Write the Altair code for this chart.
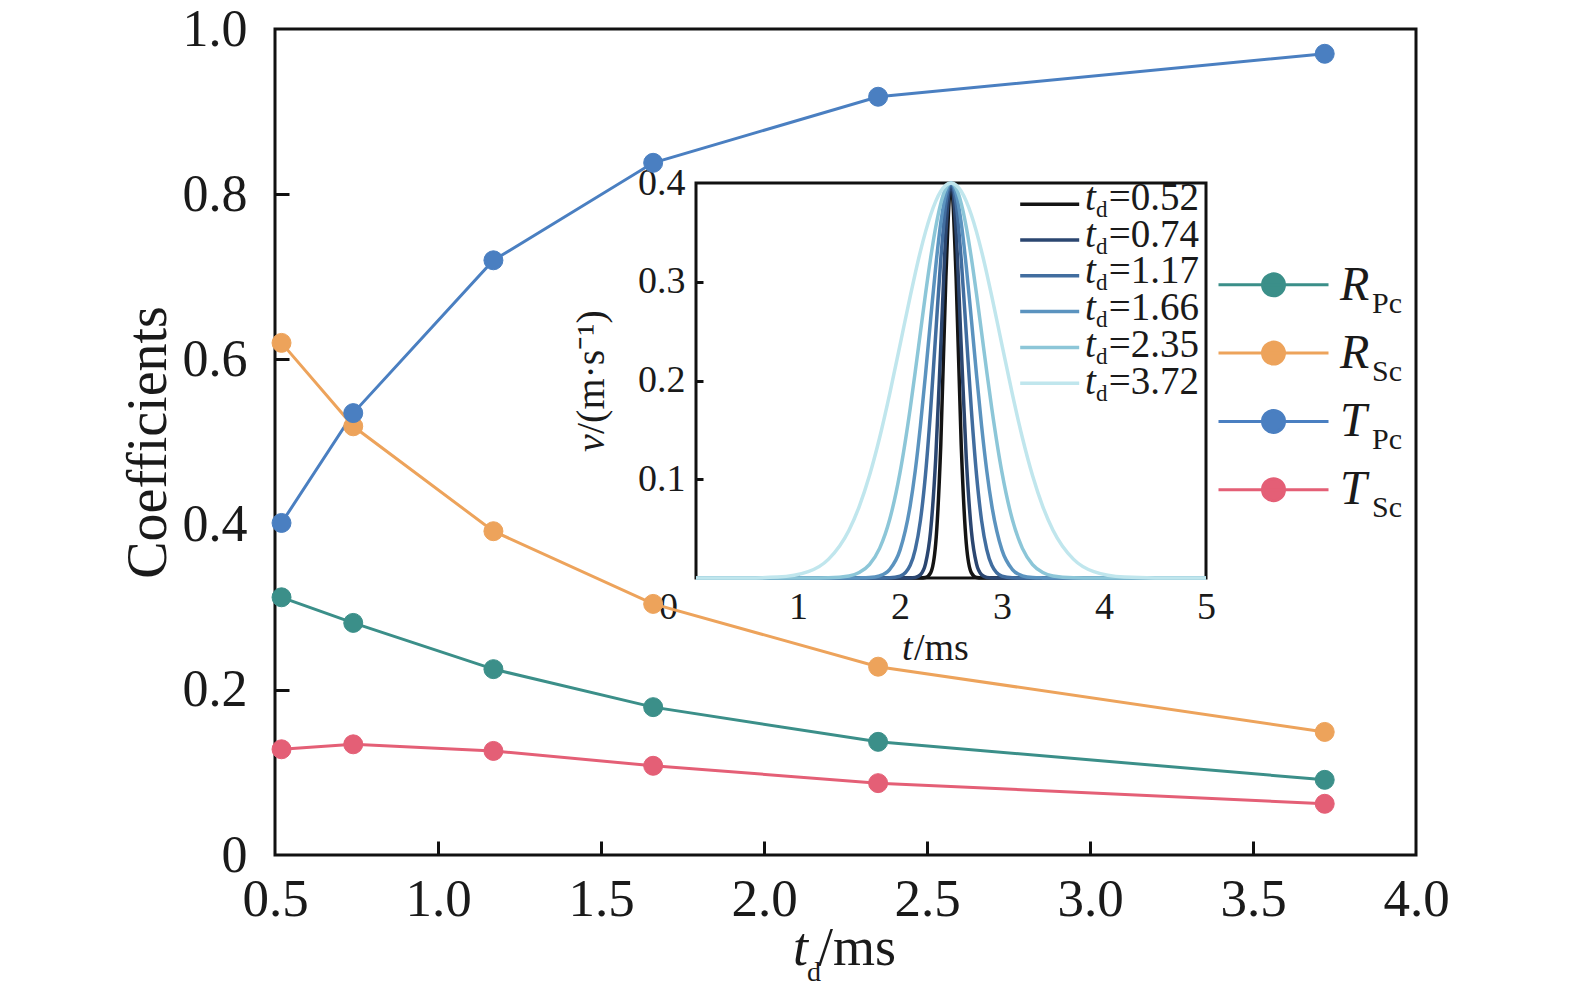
import altair as alt
import pandas as pd

# ---------------- main chart data ----------------
td = [0.52, 0.74, 1.17, 1.66, 2.35, 3.72]
series_names = ["RPc", "RSc", "TPc", "TSc"]
R_Pc = [0.312, 0.281, 0.225, 0.179, 0.137, 0.091]
R_Sc = [0.620, 0.519, 0.392, 0.304, 0.228, 0.149]
T_Pc = [0.402, 0.535, 0.720, 0.838, 0.918, 0.970]
T_Sc = [0.128, 0.134, 0.126, 0.108, 0.087, 0.062]
main_colors = ["#3b8f89", "#eda35b", "#4a7fc1", "#e45f76"]
legend_main = ["R", "R", "T", "T"]
legend_sub = ["Pc", "Sc", "Pc", "Sc"]

x_ticks = [0.5, 1.0, 1.5, 2.0, 2.5, 3.0, 3.5, 4.0]
x_inner_ticks = [1.0, 1.5, 2.0, 2.5, 3.0, 3.5]
y_ticks = [0, 0.2, 0.4, 0.6, 0.8, 1.0]
y_inner_ticks = [0.2, 0.4, 0.6, 0.8]

# ---------------- inset data ----------------
t_ms = [0.0, 0.5, 0.8, 1.1, 1.3, 1.5, 1.6, 1.7, 1.8, 1.9, 2.0, 2.1, 2.15, 2.2, 2.25,
        2.3, 2.35, 2.4, 2.45, 2.5, 2.55, 2.6, 2.65, 2.7, 2.75, 2.8, 2.85, 2.9, 3.0,
        3.1, 3.2, 3.3, 3.4, 3.5, 3.7, 3.9, 4.2, 4.5, 5.0]
v_052 = [0, 0, 0, 0, 0, 0, 0, 0, 0, 0, 0, 0, 0, 0, 0.0005, 0.0052, 0.0348, 0.1352, 0.305,
         0.4, 0.305, 0.1352, 0.0348, 0.0052, 0.0005, 0, 0, 0, 0, 0, 0, 0, 0, 0, 0, 0, 0, 0, 0]
v_074 = [0, 0, 0, 0, 0, 0, 0, 0, 0, 0, 0, 0.0001, 0.0006, 0.0033, 0.0143, 0.0475, 0.1206,
         0.2348, 0.3501, 0.4, 0.3501, 0.2348, 0.1206, 0.0475, 0.0143, 0.0033, 0.0006, 0.0001,
         0, 0, 0, 0, 0, 0, 0, 0, 0, 0, 0]
v_117 = [0, 0, 0, 0, 0, 0, 0, 0, 0, 0.0002, 0.0019, 0.013, 0.029, 0.0581, 0.1048, 0.1697,
         0.247, 0.3228, 0.3791, 0.4, 0.3791, 0.3228, 0.247, 0.1697, 0.1048, 0.0581, 0.029,
         0.013, 0.0019, 0.0002, 0, 0, 0, 0, 0, 0, 0, 0, 0]
v_166 = [0, 0, 0, 0, 0, 0, 0.0001, 0.0004, 0.0022, 0.0088, 0.0282, 0.0733, 0.109, 0.154,
         0.2061, 0.2616, 0.3151, 0.3597, 0.3895, 0.4, 0.3895, 0.3597, 0.3151, 0.2616, 0.2061,
         0.154, 0.109, 0.0733, 0.0282, 0.0088, 0.0022, 0.0004, 0.0001, 0, 0, 0, 0, 0, 0]
v_235 = [0, 0, 0, 0, 0.0002, 0.002, 0.0055, 0.0136, 0.03, 0.0597, 0.1067, 0.1717, 0.2094,
         0.2486, 0.2875, 0.3238, 0.3552, 0.3794, 0.3948, 0.4, 0.3948, 0.3794, 0.3552, 0.3238,
         0.2875, 0.2486, 0.2094, 0.1717, 0.1067, 0.0597, 0.03, 0.0136, 0.0055, 0.002, 0.0002,
         0, 0, 0, 0]
v_372 = [0, 0.0001, 0.0009, 0.0064, 0.0191, 0.0484, 0.0723, 0.1035, 0.142, 0.187, 0.2359,
         0.2853, 0.3088, 0.3308, 0.3505, 0.3676, 0.3814, 0.3916, 0.3979, 0.4, 0.3979, 0.3916,
         0.3814, 0.3676, 0.3505, 0.3308, 0.3088, 0.2853, 0.2359, 0.187, 0.142, 0.1035, 0.0723,
         0.0484, 0.0191, 0.0064, 0.0009, 0.0001, 0]
inset_labels = ["0.52", "0.74", "1.17", "1.66", "2.35", "3.72"]
inset_colors = ["#141414", "#2b4670", "#416d9f", "#5b93bf", "#8cc6d8", "#c0e6ed"]
inset_x_ticks = [0, 1, 2, 3, 4, 5]
inset_x_inner = [1, 2, 3, 4]
inset_y_ticks = [0.1, 0.2, 0.3, 0.4]
inset_y_inner = [0.1, 0.2, 0.3]
inset_frame_t = [0, 5]
inset_frame_v = [0, 0.4]

# ---------------- tables ----------------
main_rows = []
for name, vals in zip(series_names, [R_Pc, R_Sc, T_Pc, T_Sc]):
    for x, y in zip(td, vals):
        main_rows.append({"td": x, "coef": y, "series": name})
main_df = pd.DataFrame(main_rows)

inset_rows = []
for lab, vals in zip(inset_labels, [v_052, v_074, v_117, v_166, v_235, v_372]):
    for t, v in zip(t_ms, vals):
        inset_rows.append({"t": t, "v": v, "td": lab})
inset_df = pd.DataFrame(inset_rows)

frame_df = pd.DataFrame({"t0": [inset_frame_t[0]], "t1": [inset_frame_t[1]],
                         "v0": [inset_frame_v[0]], "v1": [inset_frame_v[1]]})

# ---------------- layout ----------------
FONT = "Liberation Serif"
INK = "#1a1a1a"
OX, OY = 275, 29          # plot origin on the page
W, H = 1141, 826          # main plot area
IXR = [421, 931]          # inset x range (pixels in main plot)
IYR = [549, 154]          # inset y range

sx = alt.Scale(domain=[0.5, 4.0], nice=False, zero=False)
sy = alt.Scale(domain=[0, 1.0], nice=False)
six = alt.Scale(domain=[0, 5], range=IXR, nice=False, zero=False)
siy = alt.Scale(domain=[0, 0.4], range=IYR, nice=False)

# main lines + points
xm = alt.X("td:Q", scale=sx, axis=alt.Axis(
    orient="bottom", values=x_ticks, format=".1f", labelFontSize=53, labelPadding=18,
    tickSize=0, domain=False, labelFlush=False, labelOverlap=False, title=None))
ym = alt.Y("coef:Q", scale=sy, axis=alt.Axis(
    orient="left", values=y_ticks,
    labelExpr="datum.value == 0 ? '0' : format(datum.value, '.1f')",
    labelFontSize=52, labelPadding=28, tickSize=0, domain=False, labelOverlap=False,
    title="Coefficients", titleFontSize=56, titlePadding=5, titleFontWeight="normal"))

LEG_PATH = "M-5,0L5,0M1,0A1,1,0,1,1,-1,0A1,1,0,1,1,1,0Z"
leg_main = alt.Legend(orient="none", legendX=1272 - OX - 11, legendY=283.3 - OY - 11,
                      title=None, symbolType=LEG_PATH, symbolSize=484, symbolStrokeWidth=3,
                      symbolOpacity=1, labelExpr="''", labelFontSize=1, rowPadding=33.3,
                      padding=0, direction="vertical")
main_scale = alt.Scale(domain=series_names, range=main_colors)

main_lines = alt.Chart(main_df).mark_line(strokeWidth=3).encode(
    x=xm, y=ym,
    color=alt.Color("series:N", scale=main_scale, legend=None))
main_points = alt.Chart(main_df).mark_circle(size=360, opacity=1, strokeWidth=1).encode(
    x=xm, y=ym,
    fill=alt.Fill("series:N", scale=main_scale, legend=leg_main),
    stroke=alt.Stroke("series:N", scale=main_scale, legend=leg_main))
main_layer = alt.layer(main_lines, main_points)

# inward ticks of the main frame
main_ticks = alt.Chart(main_df).mark_point(opacity=0).encode(
    x=alt.X("td:Q", scale=sx, axis=alt.Axis(
        orient="top", offset=-H, values=x_inner_ticks, tickSize=14, tickWidth=3,
        labels=False, domain=False, title=None)),
    y=alt.Y("coef:Q", scale=sy, axis=alt.Axis(
        orient="right", offset=-W, values=y_inner_ticks, tickSize=14, tickWidth=3,
        labels=False, domain=False, title=None)))

# inset curves
leg_inset = alt.Legend(orient="none", legendX=1047.5 - OX - 11.8, legendY=202 - OY - 11.8,
                       title=None, symbolType="M-2.5,0L2.5,0", symbolSize=557,
                       symbolStrokeWidth=3.5, symbolOpacity=1, labelExpr="''",
                       labelFontSize=1, rowPadding=14.8, padding=0, direction="vertical")
inset_lines = alt.Chart(inset_df).mark_line(strokeWidth=3.5, interpolate="monotone").encode(
    x=alt.X("t:Q", scale=six, axis=alt.Axis(
        orient="bottom", offset=-(H - IYR[0]), values=inset_x_ticks, labelFontSize=38,
        labelPadding=10, tickSize=0, domain=False, labelFlush=False, labelOverlap=False,
        labelOffset={"condition": {"test": "datum.value == 0", "value": -28}, "value": 0},
        title=None)),
    y=alt.Y("v:Q", scale=siy, axis=alt.Axis(
        orient="left", offset=-IXR[0], values=inset_y_ticks, format=".1f", labelFontSize=38,
        labelPadding=11, tickSize=0, domain=False, labelOverlap=False, title=None)),
    color=alt.Color("td:N", scale=alt.Scale(domain=inset_labels, range=inset_colors),
                    legend=leg_inset))

# inset frame with inward ticks
inset_frame = alt.Chart(frame_df).mark_rect(fill="transparent", stroke="#111111",
                                            strokeWidth=3).encode(
    x=alt.X("t0:Q", scale=six, axis=alt.Axis(
        orient="top", offset=-IYR[0], values=inset_x_inner, tickSize=3, tickWidth=2.5,
        labels=False, domain=False, title=None)),
    x2="t1:Q",
    y=alt.Y("v0:Q", scale=siy, axis=alt.Axis(
        orient="right", offset=-(W - IXR[0]), values=inset_y_inner, tickSize=7, tickWidth=3,
        labels=False, domain=False, title=None)),
    y2="v1:Q")


def txt(s, X, Y, size, italic=False, align="left", angle=0):
    return alt.Chart(alt.Data(values=[{}])).mark_text(
        text=s, font=FONT, fontSize=size, fontStyle="italic" if italic else "normal",
        align=align, baseline="alphabetic", angle=angle, color=INK).encode(
        x=alt.value(X - OX), y=alt.value(Y - OY))


texts = []
# main x title  t_d/ms
texts += [txt("t", 793, 965, 54, italic=True), txt("d", 807, 981, 28),
          txt("/ms", 818, 965, 54)]
# main legend labels
for i, (m, s) in enumerate(zip(legend_main, legend_sub)):
    yc = 283.3 + 68 * i
    texts += [txt(m, 1340, yc + 17, 48, italic=True), txt(s, 1372, yc + 30, 30)]
# inset x title t/ms
texts += [txt("t", 902, 660, 38, italic=True), txt("/ms", 914, 660, 38)]
# inset y title v/(m·s⁻¹)
texts += [txt("v", 604, 452, 40, italic=True, angle=270),
          txt("/(m·s⁻¹)", 604, 434, 40, angle=270)]
# inset legend labels
for i, lab in enumerate(inset_labels):
    yc = 204 + 36.7 * i
    texts += [txt("t", 1085, yc + 6, 39, italic=True), txt("d", 1096, yc + 13, 23),
              txt("=" + lab, 1199, yc + 6, 39, align="right")]

chart = alt.layer(main_ticks, main_layer, inset_frame, inset_lines, *texts).resolve_scale(
    x="independent", y="independent", color="independent"
).properties(
    width=W, height=H,
    autosize=alt.AutoSizeParams(type="none"),
    padding={"left": OX - 8, "top": OY - 8, "right": 150, "bottom": 140},
    background="white",
).configure_view(
    stroke="#111111", strokeWidth=3
).configure_axis(
    grid=False, labelFont=FONT, titleFont=FONT, labelColor=INK, titleColor=INK,
    tickColor="#111111"
)

chart.save("out.html", embed_options={"renderer": "svg", "actions": False})
